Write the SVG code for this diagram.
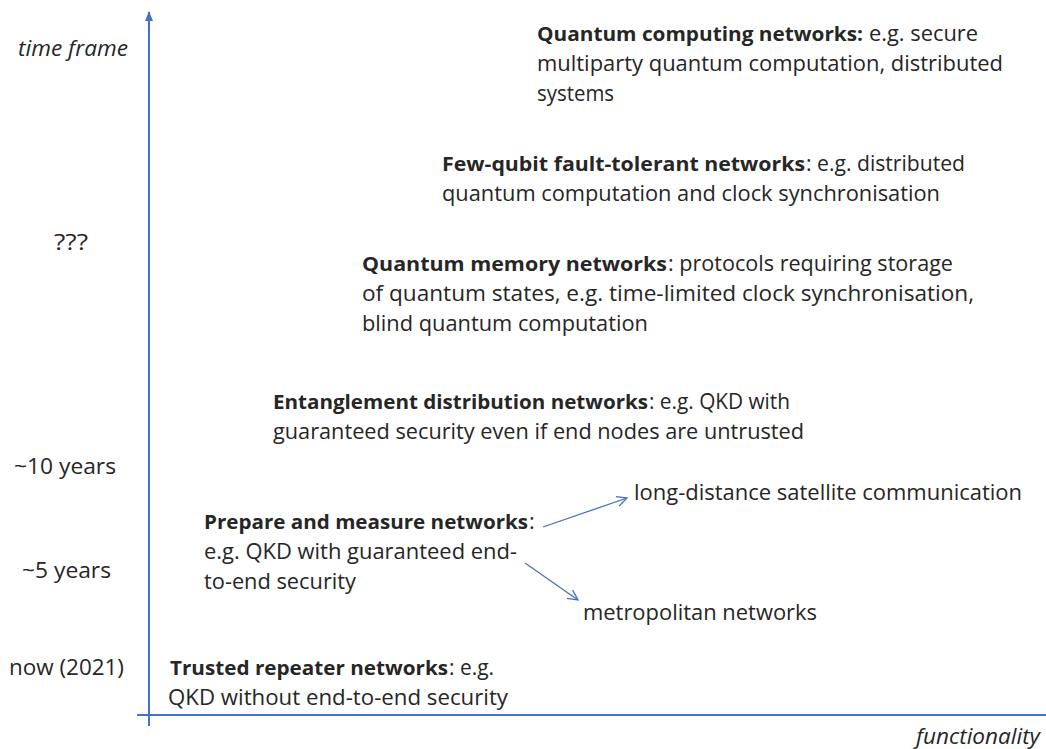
<svg xmlns="http://www.w3.org/2000/svg" width="1046" height="749" viewBox="0 0 1046 749">
<style>
text{font-family:"Open Sans","Noto Sans","Liberation Sans",sans-serif;font-size:21.5px;fill:#262626}
.b{font-weight:bold;font-size:20.2px}
.i{font-style:italic}
.axis{stroke:#4472C4;stroke-width:2;fill:none}
.conn{stroke:#4472C4;stroke-width:1.3;fill:none}
</style>
<defs>
<marker id="open" viewBox="0 0 12 12" refX="11" refY="6" markerWidth="12" markerHeight="12" markerUnits="userSpaceOnUse" orient="auto">
<path d="M1,1 L11,6 L1,11" stroke="#4472C4" stroke-width="1.3" fill="none"/>
</marker>
<marker id="tri" viewBox="0 0 10 10" refX="9" refY="5" markerWidth="10" markerHeight="10" markerUnits="userSpaceOnUse" orient="auto">
<path d="M0,1 L10,5 L0,9 Z" fill="#4472C4"/>
</marker>
</defs>
<rect width="1046" height="749" fill="#fff"/>
<g id="axes">
<line class="axis" x1="149" y1="726" x2="149" y2="12" marker-end="url(#tri)"/>
<line class="axis" x1="137" y1="715" x2="1046" y2="715"/>
</g>
<g id="axis-labels">
<text class="i" x="18" y="56" textLength="110" lengthAdjust="spacingAndGlyphs">time frame</text>
<text x="54" y="250" textLength="34" lengthAdjust="spacingAndGlyphs">???</text>
<text x="14" y="474" textLength="102" lengthAdjust="spacingAndGlyphs">~10 years</text>
<text x="22" y="578" textLength="89" lengthAdjust="spacingAndGlyphs">~5 years</text>
<text x="9" y="675" textLength="115" lengthAdjust="spacingAndGlyphs">now (2021)</text>
<text class="i" x="916" y="744" textLength="124" lengthAdjust="spacingAndGlyphs">functionality</text>
</g>
<g id="node-quantum-computing">
<text class="b" x="537" y="41" textLength="326" lengthAdjust="spacingAndGlyphs">Quantum computing networks:</text>
<text x="869" y="41" textLength="109" lengthAdjust="spacingAndGlyphs">e.g. secure</text>
<text x="537" y="71" textLength="466" lengthAdjust="spacingAndGlyphs">multiparty quantum computation, distributed</text>
<text x="537" y="101" textLength="77" lengthAdjust="spacingAndGlyphs">systems</text>
</g>
<g id="node-few-qubit">
<text class="b" x="442" y="171" textLength="363" lengthAdjust="spacingAndGlyphs">Few-qubit fault-tolerant networks</text>
<text x="806" y="171" textLength="159" lengthAdjust="spacingAndGlyphs">: e.g. distributed</text>
<text x="442" y="201" textLength="498" lengthAdjust="spacingAndGlyphs">quantum computation and clock synchronisation</text>
</g>
<g id="node-quantum-memory">
<text class="b" x="362" y="271" textLength="305" lengthAdjust="spacingAndGlyphs">Quantum memory networks</text>
<text x="668" y="271" textLength="285" lengthAdjust="spacingAndGlyphs">: protocols requiring storage</text>
<text x="362" y="301" textLength="612" lengthAdjust="spacingAndGlyphs">of quantum states, e.g. time-limited clock synchronisation,</text>
<text x="362" y="331" textLength="286" lengthAdjust="spacingAndGlyphs">blind quantum computation</text>
</g>
<g id="node-entanglement">
<text class="b" x="273" y="409" textLength="375" lengthAdjust="spacingAndGlyphs">Entanglement distribution networks</text>
<text x="649" y="409" textLength="141" lengthAdjust="spacingAndGlyphs">: e.g. QKD with</text>
<text x="273" y="439" textLength="531" lengthAdjust="spacingAndGlyphs">guaranteed security even if end nodes are untrusted</text>
</g>
<g id="node-prepare-measure">
<text class="b" x="204" y="529" textLength="324" lengthAdjust="spacingAndGlyphs">Prepare and measure networks</text>
<text x="529" y="529">:</text>
<text x="204" y="559" textLength="313" lengthAdjust="spacingAndGlyphs">e.g. QKD with guaranteed end-</text>
<text x="204" y="589" textLength="152" lengthAdjust="spacingAndGlyphs">to-end security</text>
</g>
<g id="node-long-distance">
<text x="634" y="500" textLength="388" lengthAdjust="spacingAndGlyphs">long-distance satellite communication</text>
</g>
<g id="node-metropolitan">
<text x="583" y="620" textLength="234" lengthAdjust="spacingAndGlyphs">metropolitan networks</text>
</g>
<g id="node-trusted-repeater">
<text class="b" x="170" y="675" textLength="278" lengthAdjust="spacingAndGlyphs">Trusted repeater networks</text>
<text x="449" y="675" textLength="45" lengthAdjust="spacingAndGlyphs">: e.g.</text>
<text x="168" y="705" textLength="340" lengthAdjust="spacingAndGlyphs">QKD without end-to-end security</text>
</g>
<g id="connectors">
<line class="conn" x1="543" y1="527" x2="627" y2="498" marker-end="url(#open)"/>
<line class="conn" x1="525" y1="563" x2="578" y2="600" marker-end="url(#open)"/>
</g>
</svg>
